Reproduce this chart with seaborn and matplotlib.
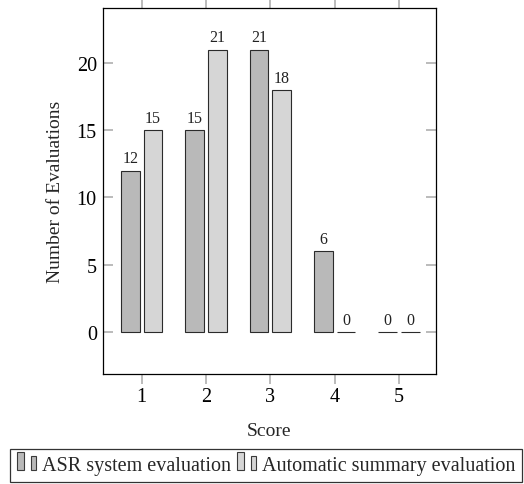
# --- Import Libraries ---
import pandas as pd
import matplotlib
matplotlib.use("Agg")
import matplotlib.pyplot as plt
from matplotlib.patches import Rectangle
from matplotlib.legend_handler import HandlerBase
import seaborn as sns

# --- Data ---
scores = ["1", "2", "3", "4", "5"]
asr_counts = [12, 15, 21, 6, 0]
summary_counts = [15, 21, 18, 0, 0]
series_names = ["ASR system evaluation", "Automatic summary evaluation"]
bar_colors = ["#b9b9b9", "#d6d6d6"]

df = pd.DataFrame({
    "Score": scores * 2,
    "Count": asr_counts + summary_counts,
    "Series": [series_names[0]] * len(scores) + [series_names[1]] * len(scores),
})

# --- Style ---
sns.set_theme(style="white")
plt.rcParams["font.family"] = ["Liberation Serif", "DejaVu Serif"]

fig = plt.figure(figsize=(5.24, 4.85), dpi=100)
ax = fig.add_axes([0.1966, 0.2268, 0.6354, 0.7546])

sns.barplot(data=df, x="Score", y="Count", hue="Series", hue_order=series_names,
            palette=bar_colors, width=0.7, gap=0.17, errorbar=None,
            edgecolor="#2b2b2b", linewidth=0.8, saturation=1, legend=False, ax=ax)

# value labels above bars
for cont in ax.containers:
    ax.bar_label(cont, fmt="%d", padding=3, fontsize=11.5, color="#222222")

ax.set_xlim(-0.602, 4.575)
ax.set_ylim(-3.15, 24.1)
ax.set_yticks([0, 5, 10, 15, 20])
ax.set_xlabel("Score", fontsize=14, labelpad=12)
ax.set_ylabel("Number of Evaluations", fontsize=14, labelpad=9)

for sp in ax.spines.values():
    sp.set_color("black")
    sp.set_linewidth(0.9)

ax.tick_params(axis="x", which="major", direction="out", top=True, bottom=True,
               length=7, width=1.1, color="#a8a8a8", labelsize=14.5, pad=2,
               labelcolor="black")
ax.tick_params(axis="y", which="major", direction="in", left=True, right=True,
               length=7, width=1.1, color="#a8a8a8", labelsize=14.5, pad=4.5,
               labelcolor="black")


# --- Legend with two small bars per entry (pgfplots ybar style) ---
class TwoBarHandler(HandlerBase):
    def __init__(self, color):
        super().__init__()
        self.color = color

    def create_artists(self, legend, orig_handle, xdescent, ydescent,
                       width, height, fontsize, trans):
        r1 = Rectangle((-xdescent, -ydescent), width * 0.37, height * 1.25,
                       facecolor=self.color, edgecolor="#3a3a3a", lw=0.8,
                       transform=trans)
        r2 = Rectangle((-xdescent + width * 0.72, -ydescent), width * 0.28, height * 1.0,
                       facecolor=self.color, edgecolor="#3a3a3a", lw=0.8,
                       transform=trans)
        return [r1, r2]


handles = [Rectangle((0, 0), 1, 1, label=n) for n in series_names]
leg = fig.legend(handles=handles, labels=series_names, ncol=2,
                 loc="lower center", bbox_to_anchor=(0.508, 0.004),
                 handler_map={handles[0]: TwoBarHandler(bar_colors[0]),
                              handles[1]: TwoBarHandler(bar_colors[1])},
                 fontsize=14.5, frameon=True, fancybox=False, edgecolor="#333333",
                 framealpha=1, handlelength=0.95, handletextpad=0.28,
                 columnspacing=0.3, borderpad=0.35, borderaxespad=0)
leg.get_frame().set_linewidth(0.9)

fig.savefig("out.png", dpi=100)
